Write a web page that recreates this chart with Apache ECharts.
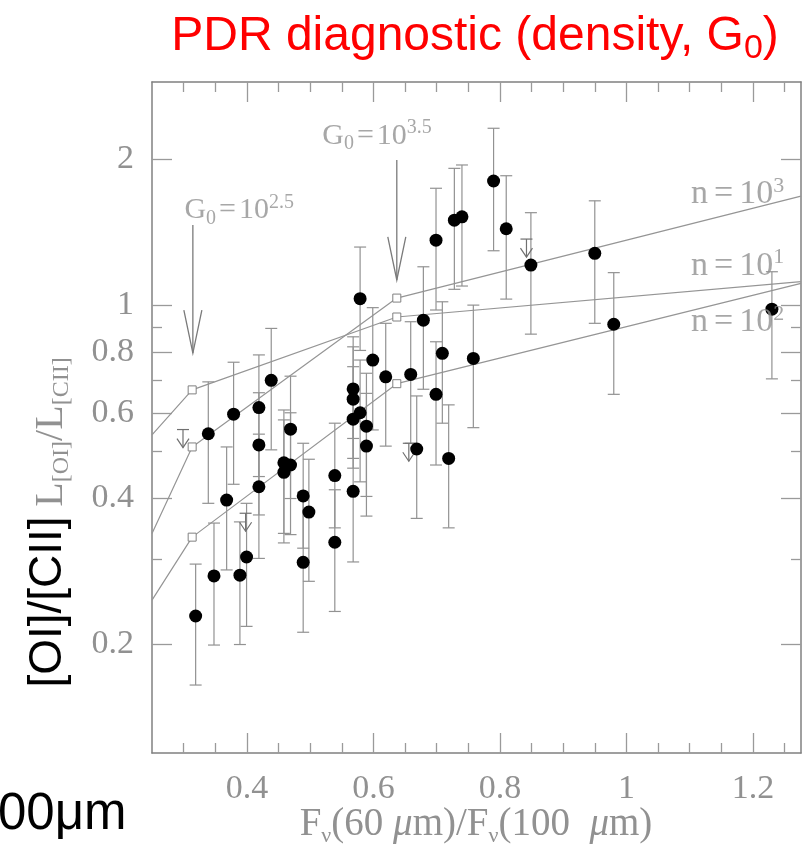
<!DOCTYPE html>
<html><head><meta charset="utf-8">
<script src="https://cdn.jsdelivr.net/npm/echarts@6.0.0/dist/echarts.min.js"></script>
<style>html,body{margin:0;padding:0;background:#fff}#c{width:810px;height:845px}</style>
</head><body><div id="c"></div>
<script>
// ---- data ----
const galaxyX = [0.319,0.339,0.348,0.368,0.379,0.389,0.3995,0.419,0.419,0.419,0.4385,0.4585,0.4585,0.469,0.469,0.489,0.498,0.489,0.539,0.539,0.579,0.568,0.568,0.579,0.568,0.589,0.589,0.568,0.599,0.6195,0.659,0.679,0.6685,0.699,0.709,0.719,0.758,0.699,0.728,0.740,0.790,0.810,0.849,0.950,0.980,1.230];
const galaxyY = [0.229,0.544,0.277,0.397,0.597,0.278,0.303,0.616,0.516,0.423,0.701,0.474,0.453,0.469,0.556,0.405,0.375,0.2955,0.446,0.325,1.033,0.673,0.641,0.601,0.583,0.564,0.513,0.414,0.772,0.713,0.721,0.933,0.506,0.656,0.797,0.484,0.778,1.364,1.50,1.524,1.806,1.44,1.212,1.281,0.915,0.983];
const errLow  = [0.165,0.391,0.1995,0.285,0.428,0.200,0.218,0.444,0.370,0.301,0.504,0.339,0.324,0.337,0.400,0.316,0.270,0.212,0.348,0.234,0.808,0.532,0.484,0.433,0.462,0.404,0.368,0.296,0.554,0.513,0.520,0.672,0.364,0.469,0.572,0.348,0.560,0.979,1.080,1.097,1.297,1.031,0.873,0.919,0.656,0.706];
const errHigh = [0.293,0.696,0.356,0.511,0.764,0.358,0.391,0.791,0.661,0.543,0.897,0.609,0.581,0.601,0.715,0.520,0.482,0.412,0.572,0.417,1.320,0.862,0.822,0.772,0.748,0.725,0.659,0.578,0.990,0.919,0.926,1.202,0.651,0.842,1.018,0.624,1.002,1.745,1.918,1.949,2.320,1.852,1.554,1.644,1.169,1.174];
// upper limits
const limX = [0.299,0.398,0.656,0.842];
const limY = [0.555,0.373,0.520,1.371];
// PDR model tracks (edge, G0=10^2.5, G0=10^3.5, edge)
const modelX  = [0.25,0.3135,0.637,1.276];
const modelN3 = [0.339,0.511,1.036,1.681];
const modelN1 = [0.541,0.670,0.947,1.120];
const modelN2 = [0.247,0.333,0.690,1.111];
// G0 arrows: x, top of shaft, tip
const g0ArrowX   = [0.3146,0.637];
const g0ArrowTop = [1.466,1.995];
const g0ArrowTip = [0.798,1.129];
// annotations
const annoBase = ['G','G','n','n','n'];
const annoSub  = ['0','0','','',''];
const annoExp  = ['2.5','3.5','3','1','2'];
const annoX    = [0.302,0.520,1.103,1.103,1.103];
const annoY    = [1.566,2.229,1.690,1.206,0.923];
// axes
const xRange = [0.25,1.276];
const yRange = [0.1195,2.89];
const xTickMajor = [0.4,0.6,0.8,1.0,1.2];
const xTickMinor = [0.3,0.35,0.45,0.5,0.55,0.65,0.7,0.75,0.85,0.9,0.95,1.05,1.1,1.15,1.25];
const yTickMajor = [0.2,0.4,0.6,0.8,1,2];
const yTickMinor = [0.3,0.5,0.7,0.9];

// ---- chart ----
const SERIF = '"Liberation Serif","DejaVu Serif",serif';
const SANS = '"Liberation Sans",Arial,sans-serif';
const AX = '#808080', TK = '#9a9a9a', TXT = '#919191';
const fmtX = v => String(+v.toFixed(2));
const fmtY = v => String(+Math.pow(10, v).toFixed(2));

function xAx(pos, vals, len, line, lab) {
  return {type:'value', gridIndex:0, position:pos, min:xRange[0], max:xRange[1],
    axisLine:{show:line, onZero:false, lineStyle:{color:AX, width:1.5}},
    axisTick:{show:true, inside:true, length:len, customValues:vals, lineStyle:{color:TK, width:1.3}},
    axisLabel:{show:lab, customValues:vals, formatter:fmtX, margin:19, fontFamily:SERIF, fontSize:34, color:TXT},
    splitLine:{show:false}, minorTick:{show:false}};
}
function yAx(pos, vals, len, line, lab) {
  const lv = vals.map(v => Math.log10(v));
  return {type:'value', gridIndex:0, position:pos, min:Math.log10(yRange[0]), max:Math.log10(yRange[1]),
    axisLine:{show:line, onZero:false, lineStyle:{color:AX, width:1.5}},
    axisTick:{show:true, inside:true, length:len, customValues:lv, lineStyle:{color:TK, width:1.3}},
    axisLabel:{show:lab, customValues:lv, formatter:fmtY, margin:18, fontFamily:SERIF, fontSize:34, color:TXT},
    splitLine:{show:false}, minorTick:{show:false}};
}

function modelSeries(name, ys) {
  return {type:'line', name, xAxisIndex:0, yAxisIndex:0, silent:true, z:2, animation:false,
    data: modelX.map((x,i) => ({value:[x, ys[i]], symbol:(i===0||i===modelX.length-1)?'none':'rect'})),
    symbol:'rect', symbolSize:8, showAllSymbol:true,
    itemStyle:{color:'#fff', borderColor:'#808080', borderWidth:1, opacity:1},
    lineStyle:{color:'#959595', width:1.2}};
}

const rich = {
  m:{fontFamily:SERIF, fontSize:30, color:TXT, lineHeight:36, verticalAlign:'middle'},
  e:{fontFamily:SERIF, fontSize:30, color:TXT, lineHeight:36, verticalAlign:'middle', padding:[0,3,0,3]},
  s:{fontFamily:SERIF, fontSize:20, color:TXT, lineHeight:20, verticalAlign:'bottom'},
  p:{fontFamily:SERIF, fontSize:20, color:TXT, lineHeight:20, verticalAlign:'top'},
  M:{fontFamily:SERIF, fontSize:34, color:TXT, lineHeight:38, verticalAlign:'middle'},
  E:{fontFamily:SERIF, fontSize:34, color:TXT, lineHeight:38, verticalAlign:'middle', padding:[0,6,0,6]},
  P:{fontFamily:SERIF, fontSize:22, color:TXT, lineHeight:22, verticalAlign:'top'}
};

const chart = echarts.init(document.getElementById('c'), null, {renderer:'canvas'});
chart.setOption({
  animation:false,
  backgroundColor:'#fff',
  grid:{left:152, top:82, width:649, height:671, containLabel:false},
  xAxis:[
    xAx('bottom', xTickMajor, 20, true, true),
    xAx('bottom', xTickMinor, 10, false, false),
    xAx('top', xTickMajor, 20, true, false),
    xAx('top', xTickMinor, 10, false, false)
  ],
  yAxis:[
    {type:'log', logBase:10, gridIndex:0, position:'left', min:yRange[0], max:yRange[1],
     axisLine:{show:false, onZero:false}, axisTick:{show:false}, axisLabel:{show:false}, splitLine:{show:false}, minorTick:{show:false}},
    yAx('left', yTickMajor, 20, true, true),
    yAx('left', yTickMinor, 10, false, false),
    yAx('right', yTickMajor, 20, true, false),
    yAx('right', yTickMinor, 10, false, false)
  ],
  series:[
    modelSeries('n=10^3', modelN3),
    modelSeries('n=10^1', modelN1),
    modelSeries('n=10^2', modelN2),
    {type:'custom', name:'errors', xAxisIndex:0, yAxisIndex:0, silent:true, z:3,
     data: galaxyX.map((x,i) => [x, errLow[i], errHigh[i]]),
     encode:{x:0, y:[1,2]},
     renderItem:(p, api) => {
       const a = api.coord([api.value(0), api.value(2)]);
       const b = api.coord([api.value(0), api.value(1)]);
       const w = 6, st = {stroke:'#929292', lineWidth:1.2};
       return {type:'group', children:[
         {type:'line', shape:{x1:a[0], y1:a[1], x2:b[0], y2:b[1]}, style:st},
         {type:'line', shape:{x1:a[0]-w, y1:a[1], x2:a[0]+w, y2:a[1]}, style:st},
         {type:'line', shape:{x1:b[0]-w, y1:b[1], x2:b[0]+w, y2:b[1]}, style:st}
       ]};
     }},
    {type:'custom', name:'upper limits', xAxisIndex:0, yAxisIndex:0, silent:true, z:3,
     data: limX.map((x,i) => [x, limY[i]]),
     renderItem:(p, api) => {
       const c = api.coord([api.value(0), api.value(1)]);
       const st = {stroke:'#707070', lineWidth:1.2, fill:null};
       const tip = c[1] + 18;
       return {type:'group', children:[
         {type:'line', shape:{x1:c[0]-6, y1:c[1], x2:c[0]+6, y2:c[1]}, style:st},
         {type:'line', shape:{x1:c[0], y1:c[1], x2:c[0], y2:tip}, style:st},
         {type:'polyline', shape:{points:[[c[0]-6, tip-9],[c[0], tip],[c[0]+6, tip-9]]}, style:st}
       ]};
     }},
    {type:'custom', name:'G0 arrows', xAxisIndex:0, yAxisIndex:0, silent:true, z:3,
     data: g0ArrowX.map((x,i) => [x, g0ArrowTop[i], g0ArrowTip[i]]),
     renderItem:(p, api) => {
       const t = api.coord([api.value(0), api.value(1)]);
       const b = api.coord([api.value(0), api.value(2)]);
       const st = {stroke:'#7a7a7a', lineWidth:1.3, fill:null};
       return {type:'group', children:[
         {type:'line', shape:{x1:t[0], y1:t[1], x2:b[0], y2:b[1]}, style:st},
         {type:'polyline', shape:{points:[[b[0]-9, b[1]-43],[b[0], b[1]],[b[0]+9, b[1]-43]]}, style:st}
       ]};
     }},
    {type:'scatter', name:'galaxies', xAxisIndex:0, yAxisIndex:0, z:6,
     data: galaxyX.map((x,i) => [x, galaxyY[i]]),
     symbol:'circle', symbolSize:13, itemStyle:{color:'#000', opacity:1}},
    {type:'scatter', name:'labels', xAxisIndex:0, yAxisIndex:0, z:7, silent:true,
     data: annoX.map((x,i) => [x, annoY[i]]),
     symbolSize:1, itemStyle:{color:'rgba(0,0,0,0)'},
     label:{show:true, position:[0,0], align:'left', verticalAlign:'middle',
       formatter: p => {
         const i = p.dataIndex;
         if (annoSub[i]) {
           return '{m|' + annoBase[i] + '}{s|' + annoSub[i] + '}{e|=}{m|10}{p|' + annoExp[i] + '}';
         }
         return '{M|' + annoBase[i] + '}{E|=}{M|10}{P|' + annoExp[i] + '}';
       }, rich}}
  ],
  graphic:[
    {type:'text', x:475, y:37, style:{text:'{t|PDR diagnostic (density, G}{s|0}{t|)}', align:'center', verticalAlign:'middle',
      rich:{t:{fontFamily:SANS, fontSize:48, fill:'#ff0000', lineHeight:58, verticalAlign:'middle'},
            s:{fontFamily:SANS, fontSize:34, fill:'#ff0000', lineHeight:34, verticalAlign:'bottom'}}}},
    {type:'text', x:51, y:432, rotation:Math.PI/2, style:{text:'{a|L}{b|[OI]}{a|/L}{b|[CII]}', align:'center', verticalAlign:'middle',
      rich:{a:{fontFamily:SERIF, fontSize:40, fill:TXT, lineHeight:46, verticalAlign:'middle'},
            b:{fontFamily:SERIF, fontSize:24, fill:TXT, lineHeight:24, verticalAlign:'bottom'}}}},
    {type:'text', x:48, y:602, rotation:Math.PI/2, style:{text:'[OI]/[CII]', align:'center', verticalAlign:'middle',
      fontFamily:SANS, fontSize:46, fill:'#000'}},
    {type:'text', x:-2, y:815, style:{text:'00μm', align:'left', verticalAlign:'middle', fontFamily:SANS, fontSize:51, fill:'#000'}},
    {type:'text', x:476, y:825, style:{text:'{a|F}{b|ν}{a|(60 }{i|μ}{a|m)/F}{b|ν}{a|(100  }{i|μ}{a|m)}', align:'center', verticalAlign:'middle',
      rich:{a:{fontFamily:SERIF, fontSize:39, fill:TXT, lineHeight:44, verticalAlign:'middle'},
            i:{fontFamily:SERIF, fontSize:39, fontStyle:'italic', fill:TXT, lineHeight:44, verticalAlign:'middle'},
            b:{fontFamily:SERIF, fontSize:22, fill:TXT, lineHeight:22, verticalAlign:'bottom'}}}}
  ]
});
</script></body></html>
